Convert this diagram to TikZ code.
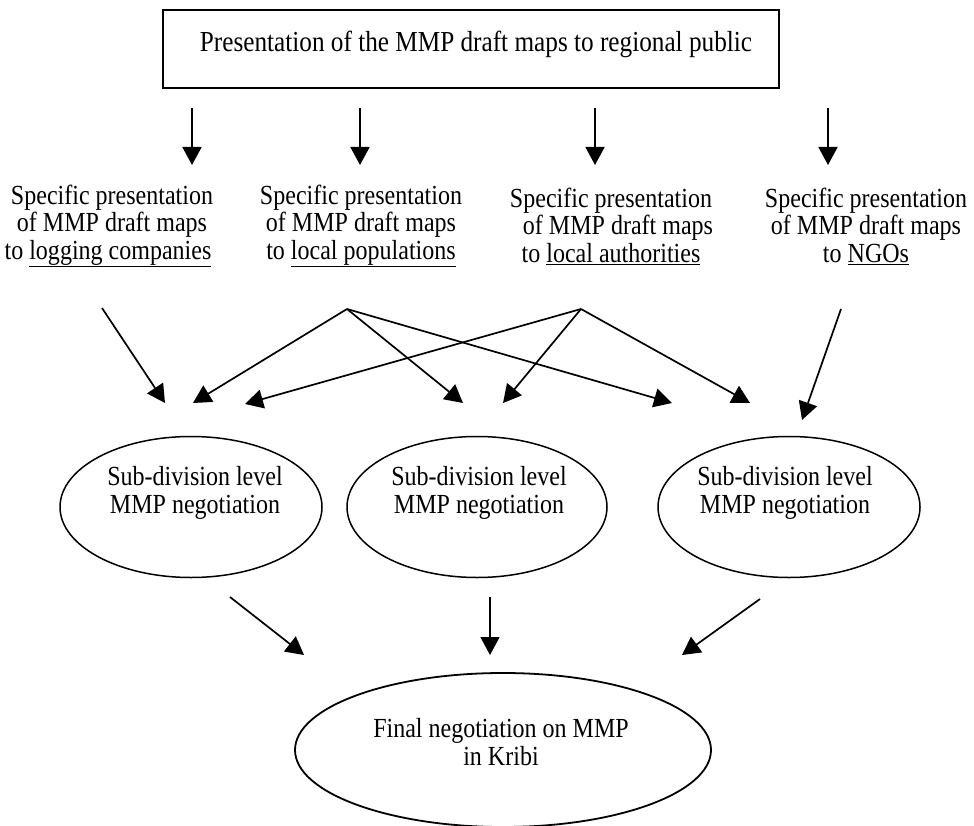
\documentclass[tikz,border=0pt]{standalone}
\usepackage{fontspec}
\setmainfont{Liberation Serif}[FakeStretch=0.87]
\usetikzlibrary{arrows.meta,shapes.geometric}
\begin{document}
\begin{tikzpicture}[x=1pt,y=-1pt,
  arr/.style={line width=1.7pt,-{Triangle[length=18pt,width=19pt]}},
  txt/.style={align=center,inner sep=0pt,font=\fontsize{27.6}{27.5}\selectfont},
  ell/.style={draw,ellipse,line width=1.5pt,inner sep=0pt,minimum width=262pt,minimum height=141pt}]
\useasboundingbox (0,0) rectangle (974,826);
% top box
\node[draw,line width=1.8pt,minimum width=616pt,minimum height=78pt,inner sep=0pt] (top) at (471,49) {};
\node[txt,font=\fontsize{29}{28}\selectfont] (toptxt) at (476,44) {Presentation of the MMP draft maps to regional public};
% down arrows
\foreach \i/\x in {1/192,2/360,3/595,4/828}{
  \coordinate (d\i s) at (\x,108);
  \coordinate (d\i e) at (\x,165);
  \draw[arr] (d\i s) -- (d\i e);
}
% column texts
\node[txt] (c1) at (112,226) {Specific presentation\\of MMP draft maps\\to \underline{logging companies}\hspace*{8pt}};
\node[txt] (c2) at (361,226) {Specific presentation\\of MMP draft maps\\to \underline{local populations}};
\node[txt] (c3) at (611,226) {Specific presentation\\\hspace*{14pt}of MMP draft maps\\to \underline{local authorities}};
\node[txt] (c4) at (866,226) {Specific presentation\\of MMP draft maps\\to \underline{NGOs}};
% middle arrows
\coordinate (s1) at (102,308);
\coordinate (p) at (347,309);
\coordinate (q) at (581,309);
\coordinate (s4) at (841,309);
\coordinate (m1) at (165,403);
\coordinate (m2) at (193,403);
\coordinate (m3) at (245,404);
\coordinate (m4) at (463,403);
\coordinate (m5) at (503,403);
\coordinate (m6) at (672,403);
\coordinate (m7) at (750,403);
\coordinate (m8) at (802,420);
\draw[arr] (s1) -- (m1);
\draw[arr] (p) -- (m2);
\draw[arr] (p) -- (m4);
\draw[arr] (p) -- (m6);
\draw[arr] (q) -- (m3);
\draw[arr] (q) -- (m5);
\draw[arr] (q) -- (m7);
\draw[arr] (s4) -- (m8);
% sub-division ellipses
\node[ell] (e1) at (191,507) {};
\node[ell,minimum width=260pt] (e2) at (477,507) {};
\node[ell] (e3) at (789,507) {};
\node[txt] (t1) at (195,493) {Sub-division level\\MMP negotiation};
\node[txt] (t2) at (479,493) {Sub-division level\\MMP negotiation};
\node[txt] (t3) at (785,493) {Sub-division level\\MMP negotiation};
% bottom arrows
\coordinate (b1s) at (230,597);
\coordinate (b1e) at (304,655);
\coordinate (b2s) at (490,597);
\coordinate (b2e) at (490,655);
\coordinate (b3s) at (760,599);
\coordinate (b3e) at (682,655);
\draw[arr] (b1s) -- (b1e);
\draw[arr] (b2s) -- (b2e);
\draw[arr] (b3s) -- (b3e);
% final ellipse
\node[ell,line width=1.8pt,minimum width=416pt,minimum height=154pt] (fin) at (503,750) {};
\node[txt] (ftxt) at (501,742) {Final negotiation on MMP\\in Kribi};
\end{tikzpicture}
\end{document}
